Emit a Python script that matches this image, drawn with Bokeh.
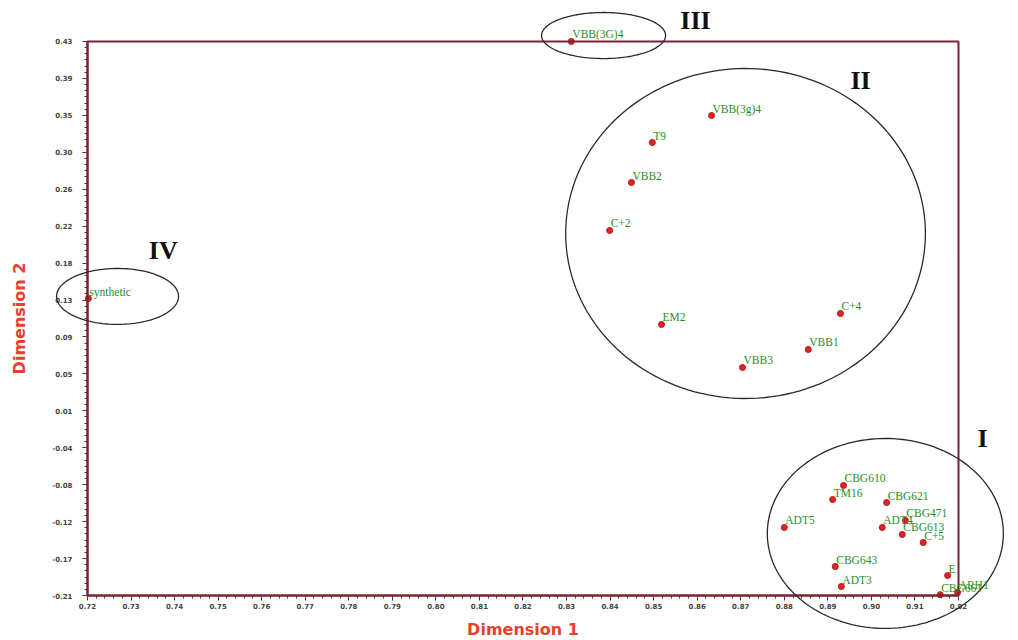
import numpy as np
from bokeh.plotting import figure
from bokeh.models import (ColumnDataSource, FixedTicker, PolyAnnotation, Label,
                          LabelSet, Range1d, LinearAxis, BoxAnnotation)
from bokeh.embed import file_html
from bokeh.resources import INLINE

# ---- data ----
names = ["synthetic", "VBB(3G)4", "VBB(3g)4", "T9", "VBB2", "C+2", "EM2", "C+4",
         "VBB1", "VBB3", "CBG610", "TM16", "CBG621", "CBG471", "ADT4", "CBG613",
         "C+5", "ADT5", "CBG643", "ADT3", "E", "CBG661", "ARH1"]
dim1 = [0.7202, 0.8311, 0.8633, 0.8497, 0.8449, 0.8399, 0.8518, 0.8929,
        0.8855, 0.8704, 0.8936, 0.8911, 0.9035, 0.9078, 0.9025, 0.9071,
        0.9119, 0.8800, 0.8917, 0.8931, 0.9175, 0.9158, 0.9198]
dim2 = [0.1331, 0.4300, 0.3445, 0.3133, 0.2671, 0.2117, 0.1031, 0.1158,
        0.0742, 0.0534, -0.0829, -0.0991, -0.1026, -0.1233, -0.1314, -0.1395,
        -0.1488, -0.1314, -0.1765, -0.1996, -0.1869, -0.2090, -0.2065]

x_ticks = [0.72, 0.73, 0.74, 0.75, 0.76, 0.77, 0.78, 0.79, 0.80, 0.81, 0.82,
           0.83, 0.84, 0.85, 0.86, 0.87, 0.88, 0.89, 0.90, 0.91, 0.92]
x_tick_labels = ["0.72", "0.73", "0.74", "0.75", "0.76", "0.77", "0.78", "0.79",
                 "0.80", "0.81", "0.82", "0.83", "0.84", "0.85", "0.86", "0.87",
                 "0.88", "0.89", "0.90", "0.91", "0.92"]
y_ticks = [-0.21, -0.1673, -0.1247, -0.082, -0.0393, 0.0033, 0.046, 0.0887,
           0.1313, 0.174, 0.2167, 0.2593, 0.302, 0.3447, 0.3873, 0.43]
y_tick_labels = ["-0.21", "-0.17", "-0.12", "-0.08", "-0.04", "0.01", "0.05", "0.09",
                 "0.13", "0.18", "0.22", "0.26", "0.30", "0.35", "0.39", "0.43"]

# cluster ellipses: label, centre x, centre y, radius x, radius y
groups = ["I", "II", "III", "IV"]
group_cx = [0.9032, 0.8711, 0.8385, 0.7269]
group_cy = [-0.1383, 0.2082, 0.4369, 0.1355]
group_rx = [0.0271, 0.0413, 0.01424, 0.0140]
group_ry = [0.1097, 0.1906, 0.0266, 0.0323]
group_lx = [0.9255, 0.8975, 0.8596, 0.7374]
group_ly = [-0.0286, 0.385, 0.4543, 0.1886]

X_MIN, X_MAX = 0.72, 0.92
Y_MIN, Y_MAX = -0.21, 0.43
FRAME = "#7b2430"

# the frame fills the canvas; the boxed area is drawn by fixed-location axes
p = figure(width=1018, height=640,
           x_range=Range1d(0.700025, 0.933776), y_range=Range1d(-0.26198, 0.47736),
           output_backend="svg", toolbar_location=None,
           x_axis_location=None, y_axis_location=None,
           min_border=0)
p.background_fill_color = "white"
p.border_fill_color = "white"
p.outline_line_color = None
p.xgrid.visible = False
p.ygrid.visible = False

x_minor = [v for v in np.linspace(X_MIN, X_MAX, 101)]
y_minor = [v for v in np.linspace(Y_MIN, Y_MAX, 91)]

xaxis = LinearAxis(fixed_location=Y_MIN, bounds=(X_MIN, X_MAX),
                   ticker=FixedTicker(ticks=x_ticks, minor_ticks=x_minor),
                   major_label_overrides={t: l for t, l in zip(x_ticks, x_tick_labels)},
                   axis_label="Dimension 1")
yaxis = LinearAxis(fixed_location=X_MIN, bounds=(Y_MIN, Y_MAX),
                   ticker=FixedTicker(ticks=y_ticks, minor_ticks=y_minor),
                   major_label_overrides={t: l for t, l in zip(y_ticks, y_tick_labels)},
                   axis_label="Dimension 2")
for ax in (xaxis, yaxis):
    ax.axis_line_color = FRAME
    ax.axis_line_width = 2
    ax.major_tick_line_color = FRAME
    ax.minor_tick_line_color = FRAME
    ax.major_tick_in = 0
    ax.major_tick_out = 5
    ax.minor_tick_in = 0
    ax.minor_tick_out = 3
    ax.major_label_text_font = "DejaVu Sans"
    ax.major_label_text_font_size = "7px"
    ax.major_label_text_font_style = "bold"
    ax.major_label_text_color = "#444444"
    ax.axis_label_text_font = "DejaVu Sans"
    ax.axis_label_text_font_size = "16px"
    ax.axis_label_text_font_style = "bold"
    ax.axis_label_text_color = "#e8402a"
xaxis.major_label_standoff = 2
yaxis.major_label_standoff = 10
xaxis.axis_label_standoff = 8
yaxis.axis_label_standoff = 20
p.add_layout(xaxis, "below")
p.add_layout(yaxis, "left")

# top / right sides of the box
p.add_layout(BoxAnnotation(left=X_MIN, right=X_MAX, bottom=Y_MIN, top=Y_MAX,
                           fill_alpha=0, line_color=FRAME, line_width=2, line_alpha=1))

# ellipses
t = np.linspace(0, 2 * np.pi, 160)
for cx, cy, rx, ry in zip(group_cx, group_cy, group_rx, group_ry):
    p.add_layout(PolyAnnotation(xs=list(cx + rx * np.cos(t)), ys=list(cy + ry * np.sin(t)),
                                fill_alpha=0, line_color="#2a2a2a", line_alpha=1,
                                line_width=1.3))

for g, lx, ly in zip(groups, group_lx, group_ly):
    p.add_layout(Label(x=lx, y=ly, text=g, text_align="center", text_baseline="middle",
                       text_font="Liberation Serif", text_font_size="26px",
                       text_font_style="bold", text_color="#111111"))

src = ColumnDataSource(dict(x=dim1, y=dim2, name=names))
p.scatter("x", "y", source=src, size=6, fill_color="#e32222", line_color="#b01818")
p.add_layout(LabelSet(x="x", y="y", text="name", source=src, x_offset=1, y_offset=1,
                      text_font="Liberation Serif", text_font_size="11.5px",
                      text_color="#1f8f1f", text_baseline="bottom"))

open("out.html", "w").write(file_html(p, INLINE))
